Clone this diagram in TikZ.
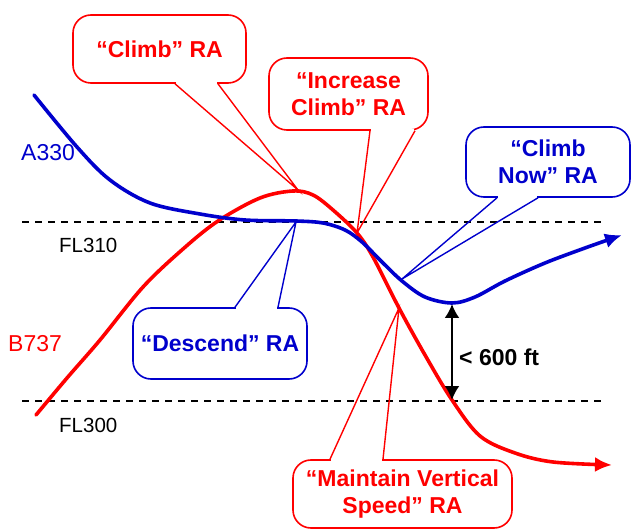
\documentclass[tikz,border=0pt]{standalone}
\usepackage{fontspec}
\setmainfont{Liberation Sans}
\usetikzlibrary{arrows.meta,positioning}
\definecolor{acblue}{RGB}{0,0,204}
\definecolor{acred}{RGB}{255,0,0}

\begin{document}
\begin{tikzpicture}[x=1pt,y=-1pt,
    ra/.style={draw,rounded corners=18pt,line width=1.6pt,fill=white,inner sep=0pt,align=center,
               font=\fontsize{23}{27}\selectfont\bfseries},
    rared/.style={ra,draw=acred,text=acred},
    rablue/.style={ra,draw=acblue,text=acblue},
    gap/.style={white,line width=3pt},
    pointer/.style={line width=1.4pt,line join=miter},
    track/.style={line width=3.6pt,line cap=round},
    level/.style={dash pattern=on 7pt off 6pt,line width=1.3pt},
    tag/.style={anchor=west,inner sep=0pt,font=\fontsize{23}{27}\selectfont}]
  \useasboundingbox (0,0) rectangle (632,529);

  % flight levels
  \coordinate (fl310w) at (22,222);  \coordinate (fl310e) at (602,222);
  \coordinate (fl300w) at (22,401);  \coordinate (fl300e) at (602,401);
  \draw[level] (fl310w) -- (fl310e);
  \draw[level] (fl300w) -- (fl300e);
  \node[tag,font=\fontsize{20.5}{24}\selectfont] (fl310) at (59,245) {FL310};
  \node[tag,font=\fontsize{20.5}{24}\selectfont] (fl300) at (59,425) {FL300};

  % aircraft tracks
  \draw[track,acred,-{Latex[length=17pt,width=15pt]}] plot[smooth,tension=0.55] coordinates
    {(36,415) (67,378) (100,340) (143,287) (183,249) (218,221) (260,198) (293,191)
     (313,195) (333,210) (357,233) (373,257) (399,308) (425,355) (452,400)
     (480,436) (515,453) (553,462) (612,465)};
  \draw[track,acblue,-{Latex[length=17pt,width=15pt]}] plot[smooth,tension=0.55] coordinates
    {(34,95) (77,147) (110,180) (150,203) (200,214) (245,220) (296,221) (323,223)
     (345,230) (362,242) (382,262) (402,281) (425,297) (452,303) (475,297)
     (505,281) (545,263) (585,248) (622,235)};
  \node[tag,text=acblue] (a330) at (21,153) {A330};
  \node[tag,text=acred]  (b737) at (8,344)  {B737};

  % separation
  \coordinate (sepA) at (452,304);
  \coordinate (sepB) at (452,400);
  \draw[line width=2pt,{Latex[length=14pt,width=15pt]}-{Latex[length=14pt,width=15pt]}] (sepA) -- (sepB);
  \node[tag,font=\fontsize{23}{27}\selectfont\bfseries] (sep) at (459,357) {< 600 ft};

  % resolution advisories
  \coordinate (tclimb)    at (298,190);
  \coordinate (tincrease) at (357,233);
  \coordinate (tnow)      at (402,279);
  \coordinate (tdescend)  at (296,222);
  \coordinate (tmaintain) at (399,308);

  \node[rared,minimum width=173pt,minimum height=68pt]  (climb)    at (159.5,49)  {“Climb” RA};
  \node[rared,minimum width=159pt,minimum height=72pt]  (increase) at (348.5,94)  {“Increase\\Climb” RA};
  \node[rablue,minimum width=164pt,minimum height=70pt] (now)      at (548,162)   {“Climb\\Now” RA};
  \node[rablue,minimum width=174pt,minimum height=71pt] (descend)  at (220,343.5) {“Descend” RA};
  \node[rared,minimum width=219pt,minimum height=68pt]  (maintain) at (402.5,494) {“Maintain Vertical\\Speed” RA};

  \draw[gap] ([xshift=16.5pt]climb.south) -- ([xshift=57.5pt]climb.south);
  \draw[pointer,acred] ([xshift=15.5pt]climb.south) -- (tclimb) -- ([xshift=58.5pt]climb.south);
  \draw[gap] ([xshift=22.5pt]increase.south) -- ([xshift=65.5pt]increase.south);
  \draw[pointer,acred] ([xshift=21.5pt]increase.south) -- (tincrease) -- ([xshift=66.5pt]increase.south);
  \draw[gap] ([xshift=-50pt]now.south) -- ([xshift=-11pt]now.south);
  \draw[pointer,acblue] ([xshift=-51pt]now.south) -- (tnow) -- ([xshift=-10pt]now.south);
  \draw[gap] ([xshift=16pt]descend.north) -- ([xshift=57pt]descend.north);
  \draw[pointer,acblue] ([xshift=15pt]descend.north) -- (tdescend) -- ([xshift=58pt]descend.north);
  \draw[gap] ([xshift=-71.5pt]maintain.north) -- ([xshift=-20.5pt]maintain.north);
  \draw[pointer,acred] ([xshift=-72.5pt]maintain.north) -- (tmaintain) -- ([xshift=-19.5pt]maintain.north);
\end{tikzpicture}
\end{document}
